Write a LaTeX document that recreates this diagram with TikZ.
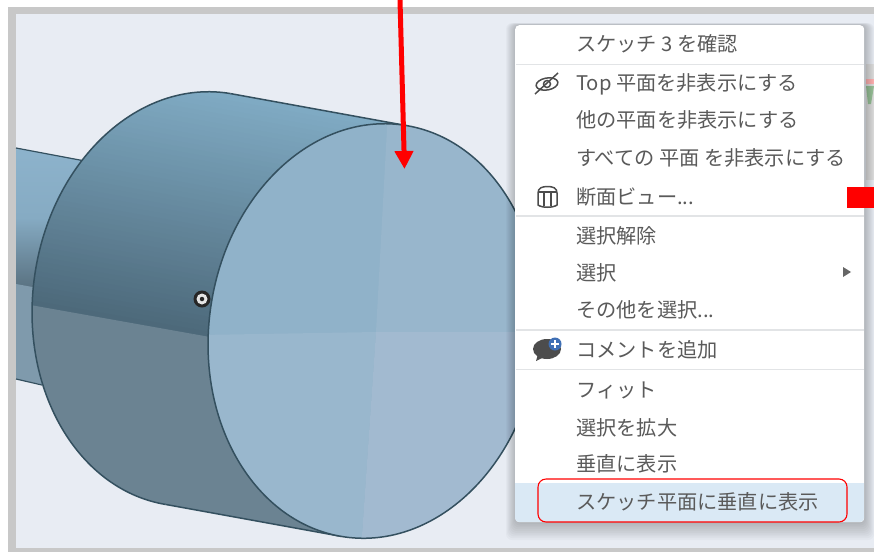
\documentclass[tikz,border=0pt]{standalone}
\usepackage{fontspec}
\setmainfont{Noto Sans CJK JP}
\usetikzlibrary{arrows.meta}
\definecolor{frameg}{HTML}{C8C8C8}
\definecolor{bgc}{HTML}{E8ECF3}
\definecolor{edgec}{HTML}{34505F}
\definecolor{menut}{HTML}{5A5A5A}
\definecolor{sepc}{HTML}{E2E4E6}
\definecolor{hilite}{HTML}{DAE9F5}
\definecolor{shafttop}{HTML}{8DB3CC}
\definecolor{shaftmid}{HTML}{86ABC3}
\definecolor{shaftdark}{HTML}{58707F}
\definecolor{shaftlow}{HTML}{7F9AAC}
\definecolor{sidetop}{HTML}{80ABC4}
\definecolor{sidedark}{HTML}{4C6879}
\definecolor{sidelow}{HTML}{6B8392}
\definecolor{faceA}{HTML}{90B2C9}
\definecolor{faceB}{HTML}{98B6CC}
\definecolor{faceC}{HTML}{99B7CD}
\definecolor{faceD}{HTML}{A2BAD0}
\definecolor{bubbleb}{HTML}{3F6FB5}
\tikzset{
  menuitem/.style={anchor=west,inner sep=0pt,text=menut,font=\fontsize{20.2}{21}\selectfont},
  sepline/.style={draw=sepc,line width=1.6pt},
  cyledge/.style={draw=edgec,line width=1.5pt},
  iconline/.style={draw=black!70,line width=1.5pt}
}
\newcommand\bodyfill{%
  \foreach \i in {0,...,49}{%
    \pgfmathsetmacro\pc{\i*2}%
    \pgfmathsetmacro\ya{299.6-250*(1-\i/50)}%
    \pgfmathsetmacro\yb{299.6-250*(1-(\i+1)/50)+0.6}%
    \fill[sidedark!\pc!sidetop] (0,\ya) -- (420,\ya+74.8) -- (420,\yb+74.8) -- (0,\yb) -- cycle;
  }%
  \fill[sidelow] (0,299.6) -- (420,374.4) -- (420,560) -- (0,560) -- cycle;
}
\begin{document}
\begin{tikzpicture}[x=1pt,y=-1pt]
\useasboundingbox (0,0) rectangle (874,552);
\fill[white] (0,0) rectangle (874,552);
\fill[frameg] (8,7) rectangle (874,552);
\fill[bgc] (16,14) rectangle (874,548);
% side strip at the right edge
\fill[black!13] (866,64) rectangle (874,180);
\fill[red!30] (866,79) rectangle (874,84);
\fill[green!40!black!40] (866,86) -- (874,86) -- (871,104) -- (868,104) -- cycle;
% shaft
\begin{scope}
\clip (16,148) -- (92,162) -- (92,395) -- (16,379) -- cycle;
\shade[top color=shafttop,bottom color=shaftdark,middle color=shaftmid] (16,145) rectangle (100,290);
\fill[shaftlow] (16,284) -- (60,292) -- (60,400) -- (16,400) -- cycle;
\end{scope}
\draw[edgec,line width=1.2pt] (16,148) -- (85,161);
\draw[edgec,line width=1.2pt] (16,379) -- (42,385);
% cylinder side
\begin{scope}
\clip (198,299) ellipse [x radius=165,y radius=208,rotate=-8];
\bodyfill
\end{scope}
\begin{scope}
\clip (230.6,93.6) -- (406.6,125.6) -- (341.4,536.4) -- (165.4,504.4) -- cycle;
\bodyfill
\end{scope}
\begin{scope}
\clip (230.6,93.6) -- (240,20) -- (-50,20) -- (-50,600) -- (160,600) -- (165.4,504.4) -- cycle;
\draw[cyledge] (198,299) ellipse [x radius=165,y radius=208,rotate=-8];
\end{scope}
\draw[cyledge] (230.6,93.6) -- (406.6,125.6);
\draw[cyledge] (165.4,504.4) -- (341.4,536.4);
% front face
\begin{scope}
\clip (374,331) ellipse [x radius=165,y radius=208,rotate=-8];
\fill[faceA] (200,110) rectangle (550,550);
\fill[faceB] (388,110) -- (550,110) -- (550,332) -- (376,332) -- cycle;
\fill[faceC] (200,335) -- (376,332) -- (361,550) -- (200,550) -- cycle;
\fill[faceD] (376,332) -- (550,332) -- (550,550) -- (361,550) -- cycle;
\end{scope}
\draw[cyledge] (374,331) ellipse [x radius=165,y radius=208,rotate=-8];
% vertex marker
\node[circle,fill=black!85,minimum size=17pt,inner sep=0pt] (vm) at (202,299) {};
\node[circle,fill=white!90!black,minimum size=11pt,inner sep=0pt] (vm2) at (202,299) {};
\node[circle,fill=black!85,minimum size=4.5pt,inner sep=0pt] (vm3) at (202,299) {};
% menu shadow
\foreach \d in {1,2,...,10}{
  \fill[black,opacity=0.022,rounded corners=6pt] (516-\d,25-\d*0.2) rectangle (864+\d,522+\d*1.8);
}
% menu
\node[fill=white,rounded corners=4pt,minimum width=349pt,minimum height=497pt,inner sep=0pt,anchor=north west] (menu) at (515,25) {};
\begin{scope}
\clip[rounded corners=4pt] (515,25) rectangle (864,522);
\fill[hilite] (515,483) rectangle (864,522);
\end{scope}
\draw[sepline] (516,64.5) -- (864,64.5);
\draw[sepline] (516,216) -- (864,216);
\draw[sepline] (516,330) -- (864,330);
\draw[sepline] (516,369.5) -- (864,369.5);
% items
\node[menuitem] (i1) at (576,44) {スケッチ 3 を確認};
\node[menuitem] (i2) at (576,84) {Top 平面を非表示にする};
\node[menuitem] (i3) at (576,120) {他の平面を非表示にする};
\node[menuitem] (i4) at (576,158) {すべての 平面 を非表示にする};
\node[menuitem] (i5) at (576,197) {断面ビュー...};
\node[menuitem] (i6) at (576,236) {選択解除};
\node[menuitem] (i7) at (576,273) {選択};
\node[menuitem] (i8) at (576,310) {その他を選択...};
\node[menuitem] (i9) at (576,350) {コメントを追加};
\node[menuitem] (i10) at (576,390) {フィット};
\node[menuitem] (i11) at (576,428) {選択を拡大};
\node[menuitem] (i12) at (576,464) {垂直に表示};
\node[menuitem] (i13) at (576,502) {スケッチ平面に垂直に表示};
% submenu triangle
\fill[black!60] (843,267) -- (851,272) -- (843,277) -- cycle;
% eye icon
\draw[iconline] (547,84) ellipse [x radius=11,y radius=6,rotate=10];
\draw[iconline] (547,84) circle (3.5pt);
\draw[iconline] (535,94) -- (558,73);
% section icon
\draw[iconline] (538,205) -- (538,193) .. controls (538,188) and (542,186.5) .. (547.5,186.5) .. controls (553,186.5) and (557,188) .. (557,193) -- (557,205) .. controls (553,208) and (542,208) .. (538,205) -- cycle;
\draw[iconline,line width=1.2pt] (538,192) -- (557,192);
\draw[iconline,line width=1.2pt] (544,192) -- (544,206) (551,192) -- (551,206);
% comment icon
\fill[black!70] (547,349) ellipse [x radius=14pt,y radius=10pt];
\fill[black!70] (538,354) -- (536,361) -- (546,356) -- cycle;
\fill[bubbleb] (555,344) circle (6.5pt);
\draw[white,line width=1.3pt] (551,344) -- (559,344) (555,340) -- (555,348);
% highlight outline
\draw[red,line width=1.1pt,rounded corners=8pt] (538,479) rectangle (847,522);
% red marker
\fill[red] (847,187) rectangle (874,208);
% red arrow
\coordinate (as) at (400,0);
\coordinate (ae) at (404.5,169);
\draw[red,line width=5pt,-{Triangle[length=18pt,width=18pt]}] (as) -- (ae);
\end{tikzpicture}
\end{document}
